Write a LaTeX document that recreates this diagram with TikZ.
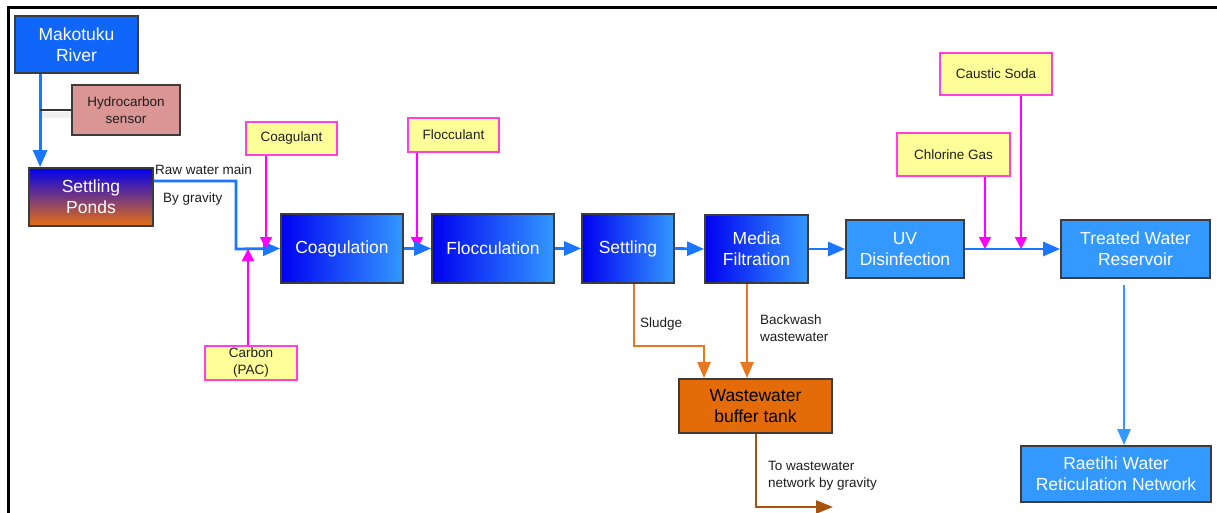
\documentclass[tikz,border=0pt]{standalone}
\usepackage{fontspec}
\setmainfont{Liberation Sans}
\usetikzlibrary{arrows.meta,calc}
\definecolor{riverblue}{RGB}{16,102,250}
\definecolor{deepblue}{RGB}{0,0,240}
\definecolor{lightblue}{RGB}{51,153,255}
\definecolor{flowblue}{RGB}{26,117,255}
\definecolor{pondorange}{RGB}{232,112,16}
\definecolor{boxborder}{RGB}{60,60,60}
\definecolor{chemyellow}{RGB}{255,255,153}
\definecolor{chemborder}{RGB}{255,64,220}
\definecolor{chemline}{RGB}{255,0,255}
\definecolor{sensorfill}{RGB}{217,150,148}
\definecolor{tankfill}{RGB}{227,108,9}
\definecolor{sludgeline}{RGB}{232,119,34}
\definecolor{drainline}{RGB}{166,84,16}
\definecolor{labeltext}{RGB}{30,30,30}
\tikzset{
  x=1pt,y=-1pt,
  bigtext/.style={font=\fontsize{17.5}{21}\selectfont, align=center, text=white},
  smalltext/.style={font=\fontsize{13.5}{17}\selectfont, align=center, text=labeltext},
  proc/.style={draw=boxborder, line width=1.8pt, rectangle, inner sep=0pt, bigtext},
  gradbox/.style={proc, left color=deepblue, right color=lightblue},
  flatbox/.style={proc, fill=lightblue},
  chembox/.style={draw=chemborder, fill=chemyellow, line width=1.6pt, rectangle, inner sep=0pt, smalltext},
  flowlabel/.style={smalltext, anchor=west, align=left, inner sep=0pt},
  bluearrow/.style={draw=flowblue, line width=2.8pt, line join=miter, -{Triangle[length=17pt,width=14pt]}},
  lightarrow/.style={draw=lightblue, line width=2.5pt, -{Triangle[length=16pt,width=13pt]}},
  chemarrow/.style={draw=chemline, line width=1.8pt, -{Triangle[length=12pt,width=12pt]}},
  sludgearrow/.style={draw=sludgeline, line width=2.4pt, -{Triangle[length=16pt,width=13pt]}},
  drainarrow/.style={draw=drainline, line width=2.4pt, -{Triangle[length=17pt,width=13pt]}},
}
\begin{document}
\begin{tikzpicture}
\useasboundingbox (0,0) rectangle (1217,513);
\fill[white] (0,0) rectangle (1217,513);
% frame
\draw[line width=3pt, black] (8,513) -- (8,8) -- (1217,8);

% nodes
\node[proc, fill=riverblue, minimum width=123pt, minimum height=57pt] (river) at (76.5,44.5) {Makotuku\\River};
\node[draw=boxborder, line width=1.6pt, fill=sensorfill, minimum width=108pt, minimum height=50pt, inner sep=0pt, smalltext] (sensor) at (126,110) {Hydrocarbon\\sensor};
\node[proc, top color=deepblue, bottom color=pondorange, minimum width=124pt, minimum height=58pt] (ponds) at (91,197) {Settling\\Ponds};
\node[chembox, minimum width=91pt, minimum height=33pt] (coagulant) at (291.5,138.5) {Coagulant};
\node[chembox, minimum width=91pt, minimum height=34pt] (flocculant) at (453.5,135) {Flocculant};
\node[gradbox, minimum width=122pt, minimum height=69pt] (coag) at (342,248.5) {Coagulation};
\node[gradbox, minimum width=122pt, minimum height=69pt] (floc) at (493,248.5) {Flocculation};
\node[gradbox, minimum width=92pt, minimum height=69pt] (settle) at (628,248.5) {Settling};
\node[gradbox, minimum width=103pt, minimum height=68pt] (media) at (756.5,249) {Media\\Filtration};
\node[flatbox, minimum width=118pt, minimum height=58pt] (uv) at (905,249) {UV\\Disinfection};
\node[flatbox, minimum width=149pt, minimum height=58pt] (treated) at (1135.5,249) {Treated Water\\Reservoir};
\node[chembox, minimum width=113pt, minimum height=43pt] (chlorine) at (953.5,154.5) {Chlorine Gas};
\node[chembox, minimum width=112pt, minimum height=42pt] (caustic) at (996,74) {Caustic Soda};
\node[chembox, minimum width=92pt, minimum height=34pt] (carbon) at (251,363) {Carbon\\(PAC)};
\node[proc, fill=tankfill, text=black, minimum width=153pt, minimum height=54pt] (tank) at (755.5,406) {Wastewater\\buffer tank};
\node[flatbox, minimum width=190pt, minimum height=56pt] (raetihi) at (1116,474) {Raetihi Water\\Reticulation Network};

% junction coordinates
\coordinate (rs) at ($(river.south west)+(26,0)$);
\coordinate (pondout) at ($(ponds.north east)+(0,14)$);
\coordinate (bend1) at (236,249);
\coordinate (cga) at (266,249);
\coordinate (cba) at (248,249);
\coordinate (fla) at (417,249);
\coordinate (cla) at (985,249);
\coordinate (csa) at (1021,249);
\coordinate (tro) at (1124,0);
\coordinate (slb) at (634,346);
\coordinate (sli) at (704,0);
\coordinate (bwa) at (747,0);
\coordinate (dro) at (756,507);
\coordinate (dre) at (833,507);

% river to ponds
\fill[black!6] ($(sensor.west -| rs)+(2,2)$) rectangle ($(sensor.west)+(0,8)$);
\draw[bluearrow] (rs) -- (rs |- ponds.north);
\draw[line width=1.5pt, black!80] (sensor.west) -- (sensor.west -| rs);

% raw water main
\draw[bluearrow] (pondout) -| (bend1) -- (coag.west);
\node[flowlabel] (rwm) at (155,170) {Raw water main};
\node[flowlabel] (grav) at (163,199) {By gravity};

% chemicals
\draw[chemarrow] (cga |- coagulant.south) -- (cga);
\draw[chemarrow] (cba |- carbon.north) -- (cba);
\draw[chemarrow] (fla |- flocculant.south) -- (fla);
\draw[chemarrow] (cla |- chlorine.south) -- (cla);
\draw[chemarrow] (csa |- caustic.south) -- (csa);

% main flow
\draw[bluearrow] (coag.east) -- (floc.west);
\draw[bluearrow] (floc.east) -- (settle.west);
\draw[bluearrow] (settle.east) -- (media.west);
\draw[bluearrow] (media.east) -- (uv.west);
\draw[bluearrow] (uv.east) -- (treated.west);
\draw[lightarrow] (tro |- treated.south) ++(0,6) -- (tro |- raetihi.north);

% wastewater
\draw[sludgearrow] (slb |- settle.south) -- (slb) -| (sli |- tank.north);
\draw[sludgearrow] (bwa |- media.south) -- (bwa |- tank.north);
\draw[drainarrow] (dro |- tank.south) -- (dro) -- (dre);
\node[flowlabel] (sludgelbl) at (640,324) {Sludge};
\node[flowlabel] (bwlbl) at (760,328.5) {Backwash\\wastewater};
\node[flowlabel] (drlbl) at (768,476) {To wastewater\\network by gravity};
\end{tikzpicture}
\end{document}
